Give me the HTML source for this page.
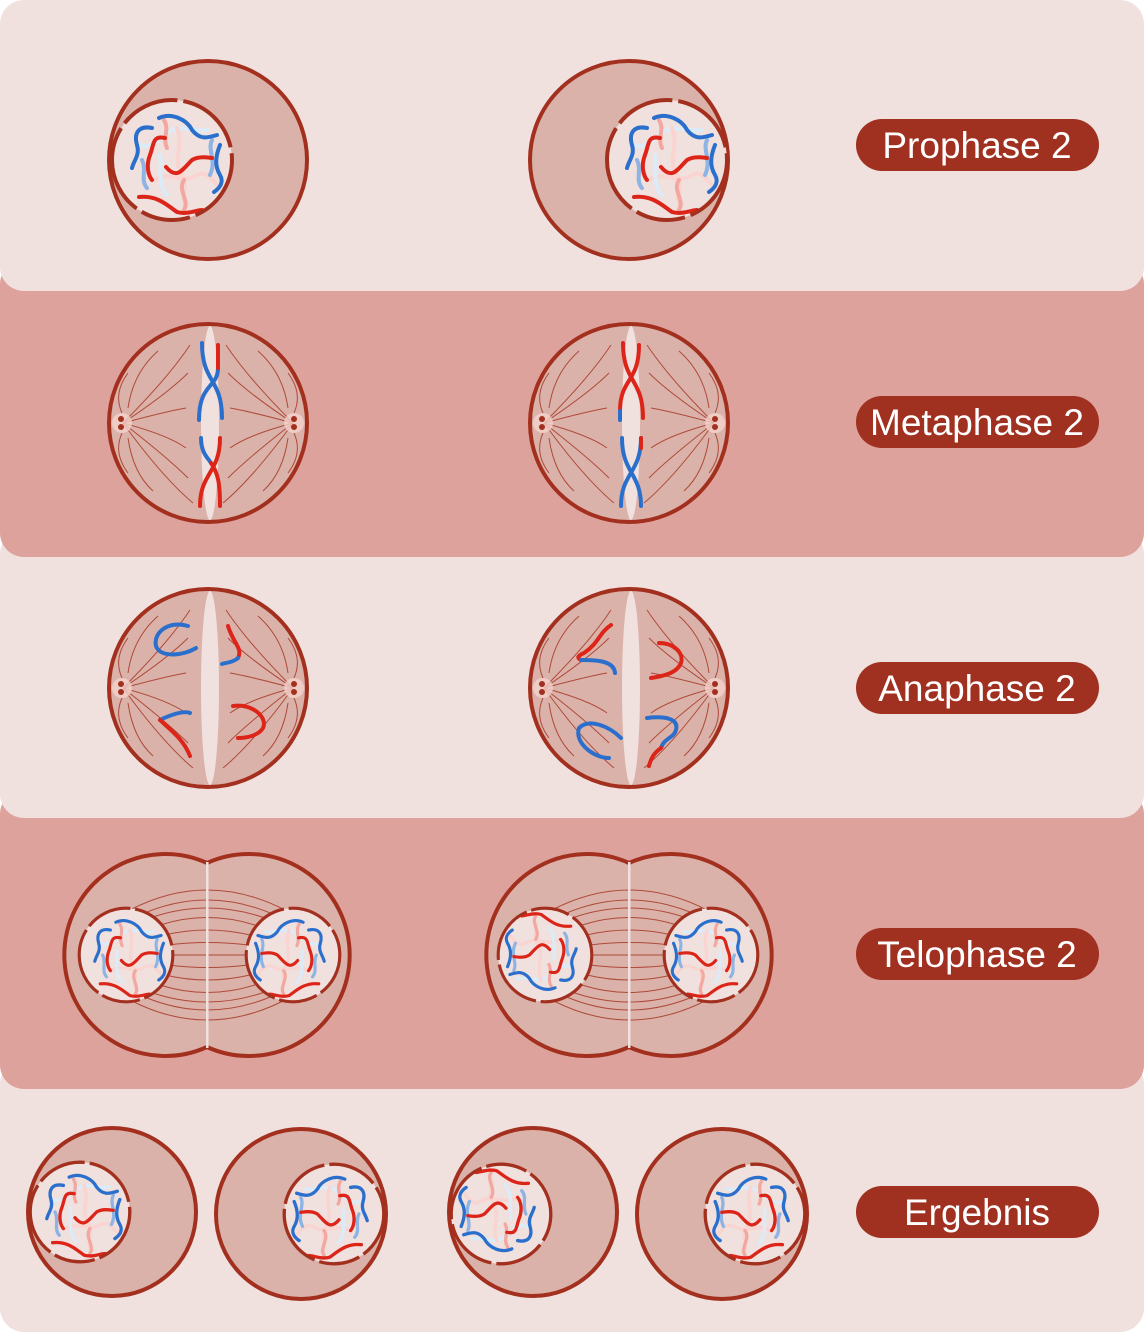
<!DOCTYPE html>
<html><head><meta charset="utf-8"><style>
html,body{margin:0;padding:0;background:#fff}
svg{display:block}
text{font-family:"Liberation Sans",sans-serif}
</style></head><body>
<svg width="1144" height="1332" viewBox="0 0 1144 1332" xmlns="http://www.w3.org/2000/svg">
<defs>
<g id="nuc">
 <circle r="60" fill="#f0e0de"/>
 <g fill="none" stroke-linecap="round" stroke-width="4">
  <path d="M-32,-15 C-20,-10 -10,-25 0,-30 C10,-35 20,-28 35,-30" stroke="#dcebf8"/>
  <path d="M5,-32 C12,-15 0,0 10,15 C18,28 5,38 15,45" stroke="#f9d4d0"/>
  <path d="M-18,20 C-5,10 10,25 25,15 C35,10 40,20 45,25" stroke="#f9d4d0"/>
  <path d="M-12,-5 C-10,10 -15,25 -5,35" stroke="#dcebf8"/>
  <path d="M-8,-40 C-2,-30 -10,-22 -5,-12" stroke="#f2a8a0"/>
  <path d="M12,20 C5,30 18,40 12,50" stroke="#f2a8a0"/>
  <path d="M-30,0 C-25,10 -32,20 -25,28" stroke="#8db4e2"/>
  <path d="M40,-20 C35,-10 45,0 38,15" stroke="#8db4e2"/>
  <path d="M-13,-42 C0,-48 15,-40 20,-30 C28,-20 35,-22 45,-25" stroke="#2a6fcc"/>
  <path d="M-20,-32 C-35,-35 -38,-25 -35,-15 C-32,-5 -38,0 -40,8" stroke="#2a6fcc"/>
  <path d="M48,-15 C44,-5 42,5 48,15 C52,22 48,28 42,32" stroke="#2a6fcc"/>
  <path d="M-7,-22 C-20,-25 -18,-15 -22,-5 C-26,5 -24,15 -20,20" stroke="#dd2418"/>
  <path d="M-6,7 C5,20 10,10 20,0 C28,-5 38,-2 40,-2" stroke="#dd2418"/>
  <path d="M-33,37 C-15,35 -5,45 5,52 C15,55 25,50 30,50" stroke="#dd2418"/>
 </g>
 <circle r="60" fill="none" stroke="#a3301e" stroke-width="4" stroke-dasharray="70 6 50 6 90 6 60 6"/>
</g>
<g id="spindle" fill="none" stroke="#a3301e" stroke-width="1" opacity="0.8">
 <path d="M-85,0 Q-40,-45 -18,-78"/><path d="M-85,0 Q-40,-30 -20,-50"/>
 <path d="M-85,0 Q-40,-12 -22,-15"/><path d="M-85,0 Q-40,12 -22,25"/>
 <path d="M-85,0 Q-40,35 -20,55"/><path d="M-85,0 Q-45,55 -15,80"/>
 <path d="M-80,-15 Q-75,-50 -50,-72"/><path d="M-80,15 Q-75,50 -55,68"/>
 <path d="M-86,-10 Q-95,-30 -80,-50"/><path d="M-86,10 Q-95,30 -80,50"/>
 <path d="M85,0 Q40,-45 18,-78"/><path d="M85,0 Q40,-30 20,-50"/>
 <path d="M85,0 Q40,-12 22,-15"/><path d="M85,0 Q40,12 22,25"/>
 <path d="M85,0 Q40,35 20,55"/><path d="M85,0 Q45,55 15,80"/>
 <path d="M80,-15 Q75,-50 50,-72"/><path d="M80,15 Q75,50 55,68"/>
 <path d="M86,-10 Q95,-30 80,-50"/><path d="M86,10 Q95,30 80,50"/>
</g>
<g id="mcell">
 <circle r="99" fill="#dbb2a9" stroke="#a3301e" stroke-width="4"/>
 <use href="#spindle"/>
 <circle cx="-86" cy="0" r="10" fill="#f4d2cc" opacity="0.8"/>
 <circle cx="86" cy="0" r="10" fill="#f4d2cc" opacity="0.8"/>
 <circle cx="-87" cy="-4" r="3" fill="#a3301e"/><circle cx="-87" cy="4" r="3" fill="#a3301e"/>
 <circle cx="86" cy="-4" r="3" fill="#a3301e"/><circle cx="86" cy="4" r="3" fill="#a3301e"/>
 <ellipse cx="2" cy="0" rx="9" ry="97" fill="#f0e0de"/>
</g>
<g id="tel">
 <path d="M207,863 A101,101 0 1 0 207,1047 A101,101 0 1 0 207,863 Z" fill="#dbb2a9" stroke="#a3301e" stroke-width="4"/>
 <g fill="none" stroke="#a3301e" stroke-width="1" opacity="0.8">
  <path d="M130,910 Q207,870 285,910"/><path d="M130,1000 Q207,1040 285,1000"/>
  <path d="M140,915 Q207,885 275,915"/><path d="M140,995 Q207,1025 275,995"/>
  <path d="M150,918 Q207,898 265,918"/><path d="M150,992 Q207,1012 265,992"/>
  <path d="M160,925 Q207,910 255,925"/><path d="M160,985 Q207,1000 255,985"/>
  <path d="M165,935 Q207,925 250,935"/><path d="M165,975 Q207,985 250,975"/>
  <path d="M168,945 Q207,940 248,945"/><path d="M168,965 Q207,970 248,965"/>
  <path d="M170,955 L246,955"/>
 </g>
 <rect x="206" y="862" width="2.5" height="186" fill="#f0e0de"/>
</g>
</defs>

<rect x="0" y="1060" width="1144" height="272" rx="24" fill="#f0e1df"/>
<rect x="0" y="790" width="1144" height="299" rx="24" fill="#dea29c"/>
<rect x="0" y="530" width="1144" height="288" rx="24" fill="#f0e1df"/>
<rect x="0" y="260" width="1144" height="297" rx="24" fill="#dea29c"/>
<rect x="0" y="0" width="1144" height="291" rx="24" fill="#f0e1df"/>

<circle cx="208" cy="160" r="99" fill="#dbb2a9" stroke="#a3301e" stroke-width="4"/>
<use href="#nuc" x="172" y="160"/>
<circle cx="629" cy="160" r="99" fill="#dbb2a9" stroke="#a3301e" stroke-width="4"/>
<use href="#nuc" x="667" y="160"/>

<g transform="translate(208,423)">
 <use href="#mcell"/>
 <g fill="none" stroke-width="4" stroke-linecap="round">
  <path d="M-6,-80 C-6,-40 14,-45 14,-5" stroke="#2a6fcc"/>
  <path d="M10,-55 C10,-35 -9,-40 -9,-3" stroke="#2a6fcc"/>
  <path d="M10,-78 L10,-55" stroke="#dd2418"/>
  <path d="M-7,15 C-7,30 0,35 3,40" stroke="#2a6fcc"/>
  <path d="M3,40 C10,50 12,60 12,83" stroke="#dd2418"/>
  <path d="M12,15 C12,50 -8,50 -8,83" stroke="#dd2418"/>
 </g>
</g>
<g transform="translate(629,423)">
 <use href="#mcell"/>
 <g fill="none" stroke-width="4" stroke-linecap="round">
  <path d="M-6,-80 C-6,-40 14,-45 14,-5" stroke="#dd2418"/>
  <path d="M10,-78 C10,-40 -9,-45 -9,-12" stroke="#dd2418"/>
  <path d="M-9,-12 L-9,-3" stroke="#2a6fcc"/>
  <path d="M-7,15 C-7,50 12,50 12,83" stroke="#2a6fcc"/>
  <path d="M12,15 C12,50 -8,50 -8,83" stroke="#2a6fcc"/>
  <path d="M12,15 L12,25" stroke="#dd2418"/>
 </g>
</g>

<g transform="translate(208,688)">
 <use href="#mcell"/>
 <g fill="none" stroke-width="4" stroke-linecap="round">
  <path d="M-20,-62 C-40,-68 -55,-55 -52,-42 C-48,-30 -25,-32 -12,-40" stroke="#2a6fcc"/>
  <path d="M20,-62 C25,-45 35,-40 30,-30" stroke="#dd2418"/>
  <path d="M30,-30 C25,-25 15,-25 14,-24" stroke="#2a6fcc"/>
  <path d="M-18,25 C-25,22 -40,28 -48,32" stroke="#2a6fcc"/>
  <path d="M-48,32 C-40,40 -25,50 -18,68" stroke="#dd2418"/>
  <path d="M25,18 C45,15 60,30 55,40 C50,48 38,50 30,50" stroke="#dd2418"/>
 </g>
</g>
<g transform="translate(629,688)">
 <use href="#mcell"/>
 <g fill="none" stroke-width="4" stroke-linecap="round">
  <path d="M-18,-63 C-30,-55 -30,-45 -45,-35 C-52,-32 -52,-30 -48,-28" stroke="#dd2418"/>
  <path d="M-48,-28 C-35,-28 -15,-28 -14,-15" stroke="#2a6fcc"/>
  <path d="M30,-45 C45,-45 55,-35 52,-25 C48,-15 35,-12 22,-10" stroke="#dd2418"/>
  <path d="M-8,50 C-20,38 -40,30 -50,40 C-55,55 -35,70 -20,70" stroke="#2a6fcc"/>
  <path d="M18,30 C35,28 50,30 47,42 C45,50 35,50 32,60" stroke="#2a6fcc"/>
  <path d="M32,60 C25,65 22,70 20,78" stroke="#dd2418"/>
 </g>
</g>

<use href="#tel"/>
<use href="#nuc" transform="translate(126,955) scale(0.78)"/>
<use href="#nuc" transform="translate(293,955) scale(0.78) scale(-1,1)"/>
<use href="#tel" x="422"/>
<use href="#nuc" transform="translate(545,955) scale(0.78) rotate(180)"/>
<use href="#nuc" transform="translate(711,955) scale(0.78) scale(-1,1)"/>

<circle cx="112" cy="1212" r="84" fill="#dbb2a9" stroke="#a3301e" stroke-width="4"/>
<use href="#nuc" transform="translate(80,1212) scale(0.83)"/>
<circle cx="301" cy="1214" r="85" fill="#dbb2a9" stroke="#a3301e" stroke-width="4"/>
<use href="#nuc" transform="translate(334,1214) scale(0.83) scale(-1,1)"/>
<circle cx="533" cy="1212" r="84" fill="#dbb2a9" stroke="#a3301e" stroke-width="4"/>
<use href="#nuc" transform="translate(501,1214) scale(0.83) rotate(180)"/>
<circle cx="722" cy="1214" r="85" fill="#dbb2a9" stroke="#a3301e" stroke-width="4"/>
<use href="#nuc" transform="translate(755,1214) scale(0.83) scale(-1,1)"/>

<g fill="#a0301f">
 <rect x="856" y="119" width="243" height="52" rx="26"/>
 <rect x="856" y="396" width="243" height="52" rx="26"/>
 <rect x="856" y="662" width="243" height="52" rx="26"/>
 <rect x="856" y="928" width="243" height="52" rx="26"/>
 <rect x="856" y="1186" width="243" height="52" rx="26"/>
</g>
<g fill="#fff" font-size="37" text-anchor="middle">
 <text x="977" y="158">Prophase 2</text>
 <text x="977" y="435">Metaphase 2</text>
 <text x="977" y="701">Anaphase 2</text>
 <text x="977" y="967">Telophase 2</text>
 <text x="977" y="1225">Ergebnis</text>
</g>
</svg>
</body></html>
